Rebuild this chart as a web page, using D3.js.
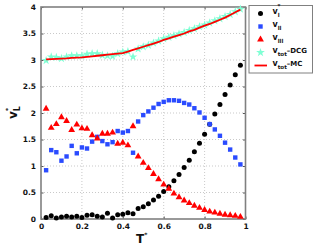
<!DOCTYPE html>
<html>
<head>
<meta charset="utf-8">
<script src="https://cdn.jsdelivr.net/npm/d3@7"></script>
<style>
  html, body { margin: 0; padding: 0; background: #fff; overflow: hidden; }
  svg { display: block; overflow: visible; }
</style>
</head>
<body>
<div id="plot"></div>
<script>
// reduced temperature grid
const T = [0.025, 0.05, 0.075, 0.1, 0.125, 0.15, 0.175, 0.2, 0.225, 0.25,
           0.275, 0.3, 0.325, 0.35, 0.375, 0.4, 0.425, 0.45, 0.475, 0.5,
           0.525, 0.55, 0.575, 0.6, 0.625, 0.65, 0.675, 0.7, 0.725, 0.75,
           0.775, 0.8, 0.825, 0.85, 0.875, 0.9, 0.925, 0.95, 0.975];

const vL = [0.03, 0.06, 0.02, 0.04, 0.05, 0.04, 0.05, 0.03, 0.07, 0.08,
            0.05, 0.04, 0.11, 0.02, 0.08, 0.09, 0.12, 0.10, 0.20, 0.23,
            0.29, 0.36, 0.43, 0.52, 0.61, 0.72, 0.84, 0.97, 1.11, 1.27,
            1.43, 1.60, 1.79, 1.98, 2.16, 2.35, 2.53, 2.72, 2.90];

const vLL = [0.92, 1.30, 1.26, 1.10, 1.18, 1.38, 1.24, 1.35, 1.33, 1.46,
             1.55, 1.47, 1.41, 1.45, 1.66, 1.63, 1.66, 1.25, 1.84, 1.96,
             2.03, 2.10, 2.17, 2.21, 2.24, 2.24, 2.23, 2.19, 2.16, 2.09,
             2.01, 1.91, 1.79, 1.69, 1.57, 1.44, 1.31, 1.16, 1.03];

const vLLL = [2.08, 1.72, 1.79, 1.92, 1.85, 1.68, 1.78, 1.71, 1.70, 1.58,
              1.52, 1.61, 1.61, 1.63, 1.42, 1.44, 1.39, 1.75, 1.18, 1.06,
              0.96, 0.85, 0.75, 0.65, 0.57, 0.48, 0.41, 0.35, 0.30, 0.25,
              0.21, 0.17, 0.14, 0.12, 0.10, 0.08, 0.07, 0.06, 0.04];

const vTotDCG = [2.99, 3.06, 3.05, 3.03, 3.06, 3.08, 3.08, 3.08, 3.11, 3.12,
                 3.12, 3.09, 3.08, 3.07, 3.12, 3.15, 3.16, 3.06, 3.21, 3.25,
                 3.28, 3.32, 3.36, 3.40, 3.43, 3.46, 3.49, 3.52, 3.56, 3.59,
                 3.63, 3.66, 3.70, 3.74, 3.78, 3.82, 3.86, 3.91, 3.96];

const vTotMC = [3.01, 3.015, 3.02, 3.025, 3.03, 3.04, 3.045, 3.05, 3.06, 3.07,
                3.08, 3.09, 3.10, 3.11, 3.12, 3.13, 3.16, 3.19, 3.22, 3.25,
                3.28, 3.31, 3.34, 3.38, 3.41, 3.44, 3.47, 3.50, 3.54, 3.57,
                3.61, 3.65, 3.68, 3.72, 3.76, 3.80, 3.85, 3.90, 3.95];

const xTicks = [0, 0.2, 0.4, 0.6, 0.8, 1];
const yTicks = [0, 0.5, 1, 1.5, 2, 2.5, 3, 3.5, 4];

const w = 316, h = 248;
const margin = {top: 7, right: 70.5, bottom: 29, left: 41};
const innerWidth = w - margin.left - margin.right;
const innerHeight = h - margin.top - margin.bottom;

const svg = d3.select("div#plot").append("svg")
    .attr("width", w)
    .attr("height", h)
    .attr("font-family", "DejaVu Sans, sans-serif")
    .attr("font-weight", "bold");

const g = svg.append("g")
    .attr("transform", `translate(${margin.left},${margin.top})`);

const x = d3.scaleLinear().domain([0, 1]).range([0, innerWidth]);
const y = d3.scaleLinear().domain([0, 4]).range([innerHeight, 0]);

// grid
g.append("g").selectAll("line")
  .data(xTicks.slice(1, -1))
  .enter().append("line")
    .attr("x1", d => x(d)).attr("x2", d => x(d))
    .attr("y1", 0).attr("y2", innerHeight)
    .attr("stroke", "#bbb").attr("stroke-width", 0.8)
    .attr("stroke-dasharray", "1,2");

g.append("g").selectAll("line")
  .data(yTicks.slice(1, -1))
  .enter().append("line")
    .attr("x1", 0).attr("x2", innerWidth)
    .attr("y1", d => y(d)).attr("y2", d => y(d))
    .attr("stroke", "#bbb").attr("stroke-width", 0.8)
    .attr("stroke-dasharray", "1,2");

// axes
g.append("g")
    .attr("transform", `translate(0,${innerHeight})`)
    .call(d3.axisBottom(x).tickValues(xTicks).tickFormat(d3.format("")).tickSizeInner(-2.5).tickSizeOuter(0).tickPadding(5));
g.append("g")
    .call(d3.axisLeft(y).tickValues(yTicks).tickFormat(d3.format("")).tickSizeInner(-2.5).tickSizeOuter(0).tickPadding(5));
g.append("g").attr("class", "mirror")
    .call(d3.axisTop(x).tickValues(xTicks).tickSizeInner(-2.5).tickSizeOuter(0));
g.append("g").attr("class", "mirror")
    .attr("transform", `translate(${innerWidth},0)`)
    .call(d3.axisRight(y).tickValues(yTicks).tickSizeInner(-2.5).tickSizeOuter(0));

g.selectAll(".mirror text").remove();
g.selectAll(".domain").remove();
g.selectAll(".tick line").attr("stroke", "#555");
g.selectAll(".tick text")
  .attr("font-family", "DejaVu Sans, sans-serif")
  .attr("font-weight", "bold")
  .attr("font-size", 7.5)
  .attr("fill", "#111");
// axis groups set their own font attrs; override
g.selectAll("g").attr("font-family", null).attr("font-size", null);

g.append("rect")
  .attr("x", 0).attr("y", 0)
  .attr("width", innerWidth).attr("height", innerHeight)
  .attr("fill", "none")
  .attr("stroke", "#808080")
  .attr("stroke-width", 1.6);

const rows = T.map((t, i) => ({t: t, l: vL[i], ll: vLL[i], lll: vLLL[i], dcg: vTotDCG[i], mc: vTotMC[i]}));

const colBlack = "#000", colBlue = "#2a4bff", colRed = "#ff0000", colCyan = "#7fffd4";

const star = d3.symbol().type(d3.symbolStar).size(24);
const tri = d3.symbol().type(d3.symbolTriangle).size(20);

// v_l
g.append("g").selectAll("circle")
  .data(rows).enter().append("circle")
    .attr("cx", d => x(d.t)).attr("cy", d => y(d.l))
    .attr("r", 2.5).attr("fill", colBlack);

// v_ll
g.append("g").selectAll("rect")
  .data(rows).enter().append("rect")
    .attr("x", d => x(d.t) - 2.2).attr("y", d => y(d.ll) - 2.2)
    .attr("width", 4.4).attr("height", 4.4).attr("fill", colBlue);

// v_lll
g.append("g").selectAll("path")
  .data(rows).enter().append("path")
    .attr("d", tri)
    .attr("transform", d => `translate(${x(d.t)},${y(d.lll)})`)
    .attr("fill", colRed);

// v_tot DCG
g.append("g").selectAll("path")
  .data(rows).enter().append("path")
    .attr("d", star)
    .attr("transform", d => `translate(${x(d.t)},${y(d.dcg)})`)
    .attr("fill", colCyan);

// v_tot MC
g.append("path")
  .datum(rows)
  .attr("fill", "none")
  .attr("stroke", colRed)
  .attr("stroke-width", 1.8)
  .attr("d", d3.line().x(d => x(d.t)).y(d => y(d.mc)));

// axis labels
const xl = svg.append("text")
  .attr("x", 136).attr("y", 243)
  .attr("font-size", 12)
  .attr("fill", "#111");
xl.append("tspan").text("T");
xl.append("tspan").attr("dy", -6).attr("font-size", 6).text("*");

const yl = svg.append("text")
  .attr("transform", "translate(17,119) rotate(-90)")
  .attr("font-size", 12)
  .attr("fill", "#111");
yl.append("tspan").text("v");
yl.append("tspan").attr("dy", 3).attr("font-size", 8).text("L");
yl.append("tspan").attr("dx", -5).attr("dy", -10).attr("font-size", 6).text("*");

// legend
const lg = svg.append("g");
lg.append("rect")
  .attr("x", 249).attr("y", 5.5)
  .attr("width", 63.5).attr("height", 67.5)
  .attr("fill", "#fff").attr("stroke", "#808080").attr("stroke-width", 1);

const legendItems = [
  {type: "circle", sub: "l", sup: "*", rest: ""},
  {type: "square", sub: "ll", sup: "", rest: ""},
  {type: "tri", sub: "lll", sup: "", rest: ""},
  {type: "star", sub: "tot", sup: "", rest: "\u2013DCG"},
  {type: "line", sub: "tot", sup: "", rest: "\u2013MC"}
];

legendItems.forEach((it, i) => {
  const cy = 13.5 + i * 13;
  const mx = 260.5;
  if (it.type === "circle") {
    lg.append("circle").attr("cx", mx).attr("cy", cy).attr("r", 2.5).attr("fill", colBlack);
  } else if (it.type === "square") {
    lg.append("rect").attr("x", mx - 2.2).attr("y", cy - 2.2).attr("width", 4.4).attr("height", 4.4).attr("fill", colBlue);
  } else if (it.type === "tri") {
    lg.append("path").attr("d", tri).attr("transform", `translate(${mx},${cy})`).attr("fill", colRed);
  } else if (it.type === "star") {
    lg.append("path").attr("d", star).attr("transform", `translate(${mx},${cy})`).attr("fill", colCyan);
  } else {
    lg.append("line").attr("x1", 254.5).attr("x2", 267).attr("y1", cy).attr("y2", cy)
      .attr("stroke", colRed).attr("stroke-width", 1.8);
  }
  const t = lg.append("text").attr("x", 272.5).attr("y", cy + 0.5).attr("font-size", 8).attr("fill", "#111");
  t.append("tspan").text("v");
  t.append("tspan").attr("dy", 3.2).attr("font-size", 5.5).text(it.sub);
  if (it.sup) {
    t.append("tspan").attr("dx", -2).attr("dy", -9).attr("font-size", 5.5).text(it.sup);
  }
  if (it.rest) {
    t.append("tspan").attr("dy", -3.2).attr("font-size", 7).text(it.rest);
  }
});
</script>
</body>
</html>
